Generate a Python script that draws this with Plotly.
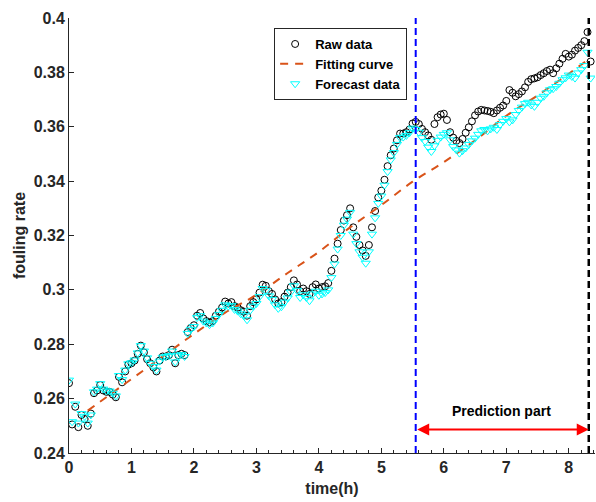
import plotly.graph_objects as go

# ---------------- data ----------------
time_h = [round(i * 0.05, 2) for i in range(168)]  # 0.00 .. 8.35 h

raw_data = [
    0.2657, 0.2505, 0.2570, 0.2495, 0.2540, 0.2525, 0.2500, 0.2545, 0.2620, 0.2630,
    0.2650, 0.2630, 0.2625, 0.2625, 0.2615, 0.2605, 0.2680, 0.2660, 0.2700, 0.2725,
    0.2730, 0.2740, 0.2765, 0.2795, 0.2770, 0.2745, 0.2730, 0.2715, 0.2700, 0.2740,
    0.2755, 0.2755, 0.2760, 0.2780, 0.2730, 0.2760, 0.2765, 0.2760, 0.2845, 0.2860,
    0.2870, 0.2905, 0.2915, 0.2895, 0.2885, 0.2880, 0.2885, 0.2905, 0.2920, 0.2935,
    0.2957, 0.2950, 0.2955, 0.2940, 0.2935, 0.2925, 0.2920, 0.2905, 0.2940, 0.2955,
    0.2965, 0.2990, 0.3019, 0.3015, 0.2995, 0.2985, 0.2965, 0.2950, 0.2955, 0.2975,
    0.2990, 0.3010, 0.3035, 0.3020, 0.2995, 0.3005, 0.2995, 0.2985, 0.3010, 0.3020,
    0.3005, 0.3010, 0.3013, 0.3025, 0.3070, 0.3115, 0.3170, 0.3220, 0.3255, 0.3275,
    0.3300, 0.3230, 0.3195, 0.3165, 0.3145, 0.3125, 0.3165, 0.3230, 0.3290, 0.3340,
    0.3365, 0.3405, 0.3455, 0.3495, 0.3520, 0.3550, 0.3575, 0.3575, 0.3580, 0.3590,
    0.3612, 0.3618, 0.3610, 0.3592, 0.3580, 0.3568, 0.3552, 0.3610, 0.3635, 0.3645,
    0.3648, 0.3625, 0.3580, 0.3560, 0.3548, 0.3540, 0.3555, 0.3578, 0.3598, 0.3620,
    0.3642, 0.3656, 0.3662, 0.3660, 0.3658, 0.3655, 0.3650, 0.3660, 0.3670, 0.3678,
    0.3695, 0.3735, 0.3725, 0.3712, 0.3720, 0.3730, 0.3745, 0.3765, 0.3775, 0.3778,
    0.3782, 0.3790, 0.3797, 0.3805, 0.3810, 0.3797, 0.3815, 0.3832, 0.3850, 0.3868,
    0.3858, 0.3865, 0.3880, 0.3890, 0.3900, 0.3915, 0.3948, 0.3840,
]

forecast_data = [
    0.2668, 0.2515, 0.2580, 0.2510, 0.2545, 0.2535, 0.2510, 0.2540, 0.2625, 0.2635,
    0.2655, 0.2635, 0.2628, 0.2628, 0.2620, 0.2610, 0.2685, 0.2670, 0.2705, 0.2728,
    0.2732, 0.2742, 0.2768, 0.2795, 0.2775, 0.2750, 0.2730, 0.2718, 0.2705, 0.2738,
    0.2752, 0.2755, 0.2758, 0.2775, 0.2735, 0.2758, 0.2762, 0.2755, 0.2840, 0.2855,
    0.2865, 0.2898, 0.2905, 0.2885, 0.2878, 0.2872, 0.2878, 0.2895, 0.2910, 0.2925,
    0.2945, 0.2940, 0.2942, 0.2928, 0.2922, 0.2912, 0.2905, 0.2890, 0.2925, 0.2940,
    0.2950, 0.2975, 0.3005, 0.2998, 0.2978, 0.2965, 0.2945, 0.2932, 0.2938, 0.2955,
    0.2970, 0.2992, 0.3015, 0.2998, 0.2972, 0.2982, 0.2972, 0.2960, 0.2985, 0.2995,
    0.2980, 0.2985, 0.2990, 0.3000, 0.3045, 0.3095, 0.3150, 0.3200, 0.3238, 0.3260,
    0.3285, 0.3205, 0.3170, 0.3140, 0.3120, 0.3098, 0.3140, 0.3205, 0.3265, 0.3318,
    0.3345, 0.3385, 0.3435, 0.3478, 0.3505, 0.3535, 0.3560, 0.3562, 0.3568, 0.3578,
    0.3595, 0.3590, 0.3580, 0.3560, 0.3546, 0.3525, 0.3509, 0.3530, 0.3550, 0.3562,
    0.3572, 0.3578, 0.3552, 0.3527, 0.3515, 0.3503, 0.3512, 0.3522, 0.3535, 0.3548,
    0.3558, 0.3572, 0.3585, 0.3590, 0.3585, 0.3592, 0.3598, 0.3590, 0.3608, 0.3620,
    0.3630, 0.3618, 0.3625, 0.3645, 0.3660, 0.3672, 0.3685, 0.3690, 0.3680, 0.3675,
    0.3690, 0.3705, 0.3712, 0.3725, 0.3736, 0.3740, 0.3748, 0.3760, 0.3773, 0.3780,
    0.3790, 0.3785, 0.3779, 0.3798, 0.3810, 0.3825, 0.3874, 0.3779,
]

fit_time = [0.3, 1.0, 1.5, 2.0, 2.5, 3.0, 3.5, 4.0, 4.5, 5.0, 5.5, 6.0, 6.5, 7.0, 7.5, 8.0, 8.3]
fit_curve = [0.2556, 0.2672, 0.2755, 0.2838, 0.2916, 0.2982, 0.3062, 0.3140, 0.3230,
             0.3312, 0.3398, 0.3470, 0.3550, 0.3640, 0.3715, 0.3795, 0.3845]

split_time = 5.55      # start of prediction part
end_time = 8.32        # end of prediction part
arrow_level = 0.2486
label_level = 0.2553
label_time = 6.92

x_ticks = [0, 1, 2, 3, 4, 5, 6, 7, 8]
y_ticks = [0.24, 0.26, 0.28, 0.30, 0.32, 0.34, 0.36, 0.38, 0.40]
y_tick_text = ["0.24", "0.26", "0.28", "0.3", "0.32", "0.34", "0.36", "0.38", "0.4"]
y_range = [0.24, 0.40]
x_range = [0, 8.42]

# ---------------- figure ----------------
FONT = "Liberation Sans, Arial, sans-serif"
fig = go.Figure()

fig.add_trace(go.Scatter(
    x=time_h, y=raw_data, mode="markers", name="<b>Raw data</b>",
    marker=dict(symbol="circle-open", size=7, color="black", line=dict(width=1, color="black")),
))
fig.add_trace(go.Scatter(
    x=fit_time, y=fit_curve, mode="lines", name="<b>Fitting curve</b>",
    line=dict(color="#D95319", width=2, dash="8px,7px", shape="spline"),
))
fig.add_trace(go.Scatter(
    x=time_h, y=forecast_data, mode="markers", name="<b>Forecast data</b>",
    marker=dict(symbol="triangle-down-open", size=8, color="#00FFFF", line=dict(width=1, color="#00FFFF")),
))

# vertical boundary lines
fig.add_trace(go.Scatter(
    x=[split_time, split_time], y=y_range, mode="lines", showlegend=False,
    line=dict(color="#0000FF", width=2, dash="7px,4px"), hoverinfo="skip",
))
fig.add_trace(go.Scatter(
    x=[end_time, end_time], y=y_range, mode="lines", showlegend=False,
    line=dict(color="#000000", width=2.5, dash="7px,4px"), hoverinfo="skip",
))

# double-headed arrow
fig.add_annotation(
    x=end_time, y=arrow_level, ax=split_time, ay=arrow_level,
    xref="x", yref="y", axref="x", ayref="y",
    text="", showarrow=True, arrowhead=2, startarrowhead=2, arrowside="end+start",
    arrowsize=1.2, startarrowsize=1.2, arrowwidth=2, arrowcolor="#FF0000",
    standoff=0, startstandoff=0,
)
fig.add_annotation(
    x=label_time, y=label_level, xref="x", yref="y", text="<b>Prediction part</b>",
    showarrow=False, font=dict(family=FONT, size=14, color="black"),
)

axis_common = dict(
    showline=True, linecolor="#262626", linewidth=1, mirror=False,
    ticks="inside", tickcolor="#262626", ticklen=5, tickwidth=1,
    showgrid=False, zeroline=False, automargin=False,
    tickfont=dict(family=FONT, size=16, color="#262626", weight="bold"),
)

fig.update_xaxes(
    range=x_range, tickvals=x_ticks, **axis_common,
    minor=dict(dtick=0.2, tick0=0, ticks="inside", ticklen=3, tickcolor="#262626", showgrid=False),
    title=dict(text="<b>time(h)</b>", font=dict(family=FONT, size=16, color="#262626"), standoff=7),
)
fig.update_yaxes(
    range=y_range, tickvals=y_ticks, ticktext=y_tick_text, **axis_common,
    title=dict(text="<b>fouling rate</b>", font=dict(family=FONT, size=16, color="#262626"), standoff=4),
)

fig.update_layout(
    width=596, height=502,
    margin=dict(l=69, r=1, t=18, b=49, autoexpand=False),
    paper_bgcolor="white", plot_bgcolor="white",
    font=dict(family=FONT, color="black"),
    showlegend=True,
    legend=dict(
        x=0.39, y=0.977, xanchor="left", yanchor="top",
        bgcolor="white", bordercolor="#262626", borderwidth=1,
        font=dict(family=FONT, size=13, color="black"),
        tracegroupgap=0, itemwidth=30,
    ),
)

# remove the default 8px page margin so the 596x502 figure fills the window exactly
fig.write_html(
    "out.html",
    config={"displayModeBar": False},
    post_script="document.body.style.margin='0';document.body.style.overflow='hidden';",
)
